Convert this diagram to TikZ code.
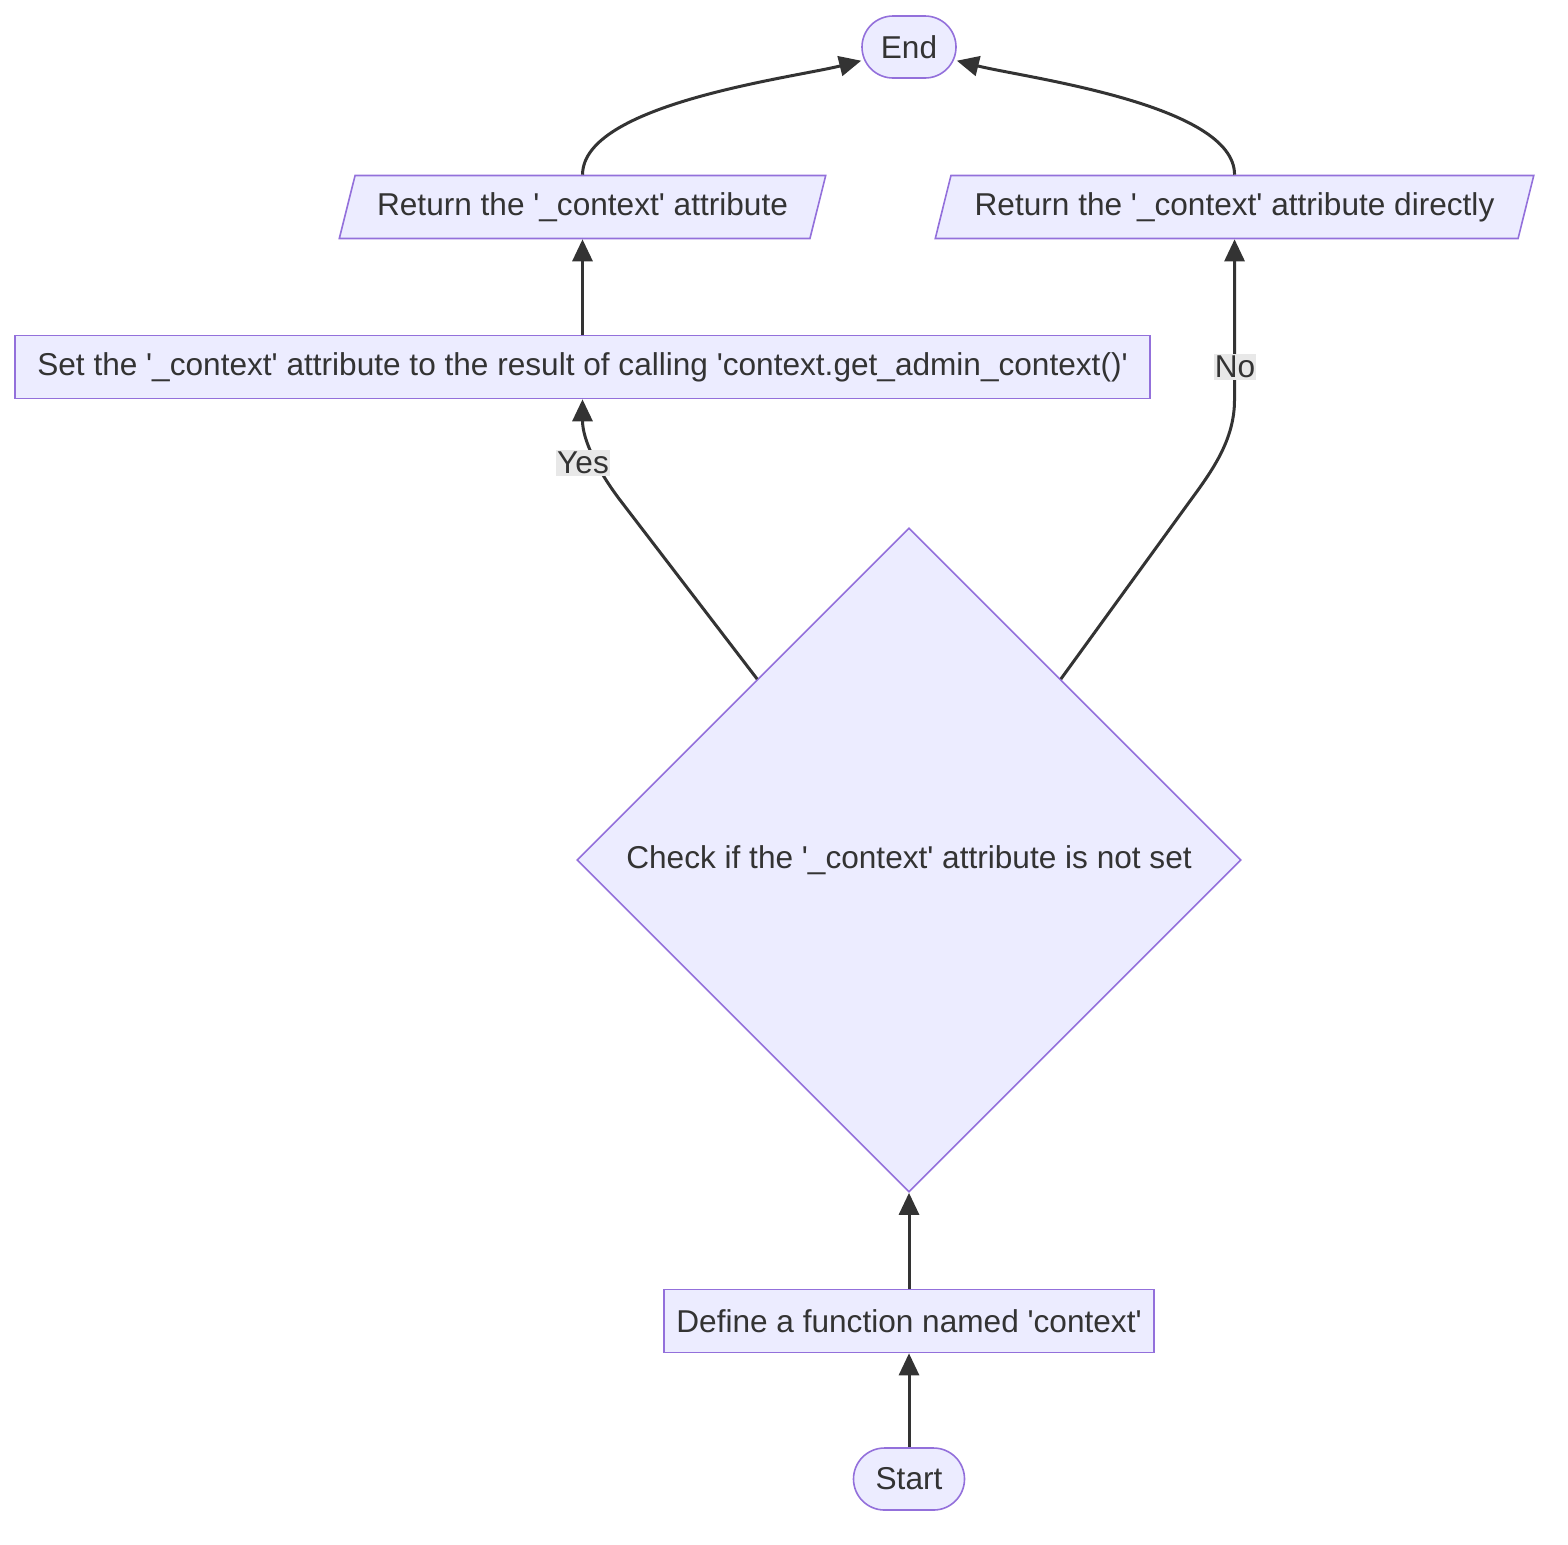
\documentclass[tikz,border=0pt]{standalone}
\usepackage{fontspec}
\setmainfont{Liberation Sans}
\usetikzlibrary{shapes.geometric,arrows.meta}
\definecolor{boxfill}{HTML}{ECECFF}
\definecolor{boxline}{HTML}{9370DB}
\definecolor{ink}{HTML}{333333}
\definecolor{tagfill}{HTML}{E8E8E8}
\newcommand{\sq}{\textquotesingle}
\tikzset{
  base/.style={draw=boxline, fill=boxfill, line width=0.8pt, text=ink, inner sep=0pt,
    font=\fontsize{15.8}{18}\selectfont},
  term/.style={base, rounded corners=15.5pt, minimum height=31pt},
  proc/.style={base, rectangle, minimum height=31.5pt},
  io/.style={base, trapezium, trapezium left angle=64, trapezium right angle=116,
    trapezium stretches=true, minimum height=31.5pt},
  decide/.style={base, diamond, aspect=1, minimum width=332pt, minimum height=332pt},
  flow/.style={draw=ink, line width=1.5pt, -{Triangle[length=11pt,width=10pt]}},
  tag/.style={fill=tagfill, text=ink, inner ysep=1pt, inner xsep=0.5pt,
    font=\fontsize{15.8}{18}\selectfont}
}
\begin{document}
\begin{tikzpicture}[x=0.5pt, y=-0.5pt]
\useasboundingbox (0,0) rectangle (1568,1544);
% nodes
\node[term, minimum width=47pt] (fin) at (909,47) {End};
\node[io, minimum width=243.5pt] (ret1) at (582.5,207) {Return the \sq\_context\sq{} attribute};
\node[io, minimum width=300.5pt] (ret2) at (1234.5,207) {Return the \sq\_context\sq{} attribute directly};
\node[proc, minimum width=567.5pt] (set) at (582.5,367) {Set the \sq\_context\sq{} attribute to the result of calling \sq context.get\_admin\_context()\sq};
\node[decide] (chk) at (909,860) {Check if the \sq\_context\sq{} attribute is not set};
\node[proc, minimum width=245pt] (def) at (909,1321) {Define a function named \sq context\sq};
\node[term, minimum width=55.5pt] (start) at (909,1479) {Start};
% bends
\coordinate (yesa) at (620,500);
\coordinate (yesc) at (598,471);
\coordinate (yesd) at (582.5,440);
\coordinate (noa) at (1190,501);
\coordinate (noc) at (1212,471);
\coordinate (nod) at (1234.5,440);
\coordinate (nob) at (1234.5,400);
% edges
\draw[flow] (start) -- (def);
\draw[flow] (def) -- (chk);
\draw[flow] (chk.130) -- (yesa) .. controls (yesc) and (yesd) .. (set.south);
\draw[flow] (chk.50) -- (noa) .. controls (noc) and (nod) .. (nob) -- (ret2.south);
\draw[flow] (set) -- (ret1);
\draw[flow] (ret1.north) to[out=90, in=194, looseness=0.6] (fin.196);
\draw[flow] (ret2.north) to[out=90, in=-14, looseness=0.6] (fin.-16);
% labels
\node[tag] (yes) at (583,463) {Yes};
\node[tag] (no) at (1235,367) {No};
\end{tikzpicture}
\end{document}
